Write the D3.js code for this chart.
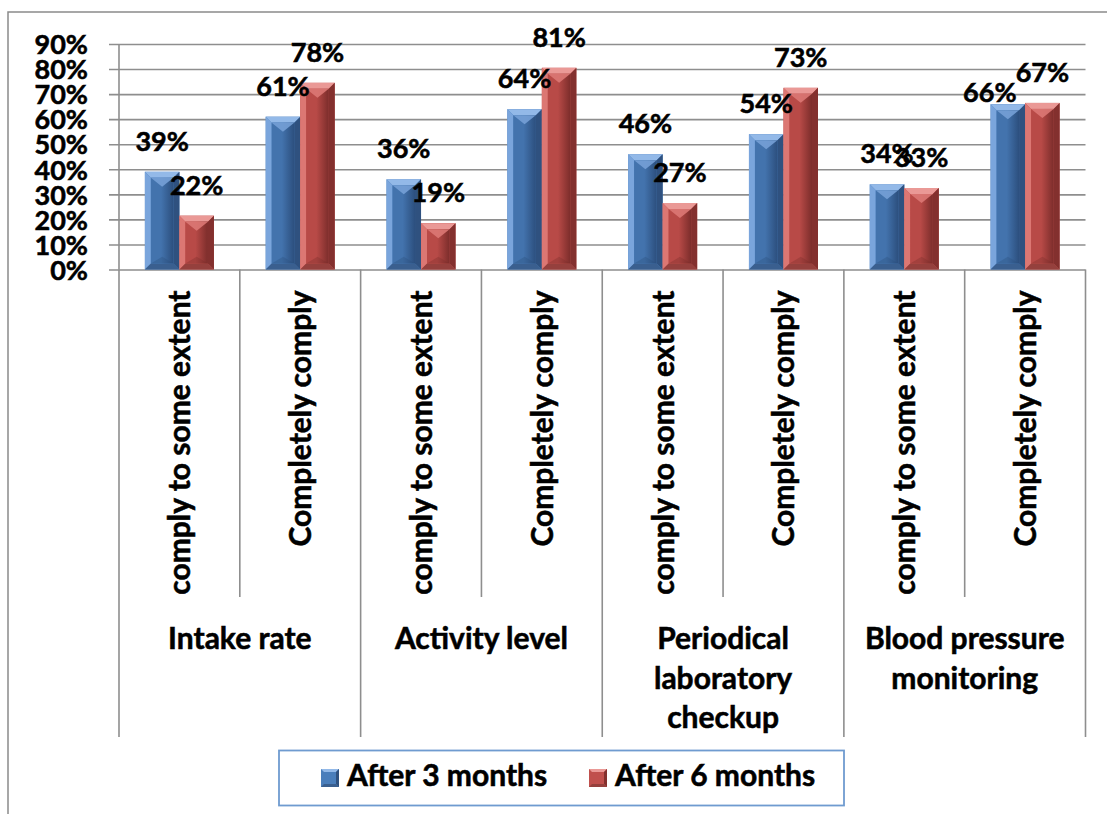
<!DOCTYPE html>
<html><head><meta charset="utf-8">
<script src="https://cdn.jsdelivr.net/npm/d3@7"></script>
<style>html,body{margin:0;padding:0;background:#fff;}svg{display:block;font-family:Lato,"Open Sans",sans-serif;font-weight:bold;}
text{stroke:#000;stroke-width:0.55px;}</style>
</head><body>
<svg id="chart" width="1107" height="814"></svg>
<script>
// ---- data ----
const subCategories = ["comply to some extent","Completely comply","comply to some extent","Completely comply","comply to some extent","Completely comply","comply to some extent","Completely comply"];
const groups = [["Intake rate"],["Activity level"],["Periodical","laboratory","checkup"],["Blood pressure","monitoring"]];
const seriesNames = ["After 3 months","After 6 months"];
const after3Values = [39,61,36,64,46,54,34,66];
const after6Values = [21.5,74.5,18.5,80.5,26.5,72.5,32.5,66.5];
const after3Labels = ["39%","61%","36%","64%","46%","54%","34%","66%"];
const after6Labels = ["22%","78%","19%","81%","27%","73%","33%","67%"];
const yTicks = [0,10,20,30,40,50,60,70,80,90];

// label nudges (layout only): [series, index] -> [dx, dy]
const labelNudge = {"0-7":[-18,19]};

const svg = d3.select("#chart");
const L = 119, R = 1085.5, T = 44, B = 269.5;
const grid = "#8e8e8e";

// outer chart border
svg.append("rect").attr("x",8).attr("y",12).attr("width",1120).attr("height",830)
  .attr("fill","none").attr("stroke","#8a8a8a").attr("stroke-width",1.5);

const x0 = d3.scaleBand().domain(d3.range(subCategories.length)).range([L,R]).paddingInner(0).paddingOuter(0);
const bw = x0.bandwidth()/3.5;
const x1 = d3.scaleBand().domain(seriesNames).range([0.75*bw, x0.bandwidth()-0.75*bw]).padding(0);
const y = d3.scaleLinear().domain([0,90]).range([B,T]);

// gridlines + value axis
const yAxis = d3.axisLeft(y).tickValues(yTicks).tickSize(-(R-L)).tickPadding(31).tickFormat(d=>d+"%");
const gy = svg.append("g").attr("transform",`translate(${L},0)`).call(yAxis);
gy.select(".domain").remove();
gy.selectAll(".tick line").attr("x1",-10).attr("x2",R-L).attr("stroke",grid).attr("stroke-width",1.6);
gy.selectAll(".tick text").attr("font-size",27).attr("font-family","Lato").attr("font-weight","bold").attr("fill","#000").attr("dy","0.36em");

// vertical axis line
svg.append("line").attr("x1",L).attr("x2",L).attr("y1",T).attr("y2",B).attr("stroke",grid).attr("stroke-width",1.6);

// category separators
const seps = d3.range(subCategories.length+1);
svg.selectAll("line.sep").data(seps).join("line").attr("class","sep")
  .attr("x1",i=>i<subCategories.length?x0(i):R).attr("x2",i=>i<subCategories.length?x0(i):R)
  .attr("y1",B).attr("y2",i=>i%2===0?737:597)
  .attr("stroke",grid).attr("stroke-width",1.6);

// gradients
const defs = svg.append("defs");
const pal = {
  "After 3 months":{base:"#4a7ebb", light:"#7aa5dc", top:"#93b9e8", inner0:"#4373ad", inner1:"#2c4f7e", dark:"#2f517f", bottom:"#3a5f8f", v:"#75a0d6"},
  "After 6 months":{base:"#c0504d", light:"#dc7773", top:"#ea9996", inner0:"#b84a47", inner1:"#7c2d2b", dark:"#83302e", bottom:"#95403d", v:"#dc7874"}
};
seriesNames.forEach((s,k)=>{
  const g = defs.append("linearGradient").attr("id","inner"+k).attr("x1","0").attr("x2","1").attr("y1","0").attr("y2","0");
  g.append("stop").attr("offset","0").attr("stop-color",pal[s].inner0);
  g.append("stop").attr("offset","0.45").attr("stop-color",pal[s].inner0);
  g.append("stop").attr("offset","1").attr("stop-color",pal[s].inner1);
});

function drawBar(gEl, x, yTop, w, h, s, k){
  const p = pal[s], e = Math.min(6, h/4);
  const g = gEl.append("g");
  g.append("rect").attr("x",x).attr("y",yTop).attr("width",w).attr("height",h).attr("fill",p.base);
  const x2 = x+w, y2 = yTop+h;
  g.append("polygon").attr("points",`${x},${yTop} ${x2},${yTop} ${x2-e},${yTop+e} ${x+e},${yTop+e}`).attr("fill",p.top);
  g.append("polygon").attr("points",`${x},${yTop} ${x+e},${yTop+e} ${x+e},${y2-e} ${x},${y2}`).attr("fill",p.light);
  g.append("polygon").attr("points",`${x2},${yTop} ${x2},${y2} ${x2-e},${y2-e} ${x2-e},${yTop+e}`).attr("fill",p.dark);
  g.append("polygon").attr("points",`${x},${y2} ${x+e},${y2-e} ${x2-e},${y2-e} ${x2},${y2}`).attr("fill",p.bottom);
  g.append("rect").attr("x",x+e).attr("y",yTop+e).attr("width",w-2*e).attr("height",Math.max(0,h-2*e)).attr("fill",`url(#inner${k})`);
  const vd = Math.min((w-2*e)/2, h-2*e);
  g.append("polygon").attr("points",`${x+e},${yTop+e} ${x2-e},${yTop+e} ${x+w/2},${yTop+e+vd*0.8}`).attr("fill",p.v).attr("opacity",0.9);
  g.append("polygon").attr("points",`${x+e},${y2-e} ${x2-e},${y2-e} ${x+w/2},${y2-e-vd*0.6}`).attr("fill",p.inner1).attr("opacity",0.35);
}

const barsG = svg.append("g");
const seriesVals = [after3Values, after6Values];
const seriesLabs = [after3Labels, after6Labels];
seriesNames.forEach((s,k)=>{
  seriesVals[k].forEach((v,i)=>{
    drawBar(barsG, x0(i)+x1(s), y(v), x1.bandwidth(), y(0)-y(v), s, k);
  });
});
// data labels
seriesNames.forEach((s,k)=>{
  svg.append("g").selectAll("text").data(seriesVals[k]).join("text")
    .attr("x",(v,i)=>x0(i)+x1(s)+x1.bandwidth()/2+((labelNudge[k+"-"+i]||[0,0])[0]))
    .attr("y",(v,i)=>y(v)-21+((labelNudge[k+"-"+i]||[0,0])[1]))
    .attr("text-anchor","middle").attr("font-size",27).attr("fill","#000")
    .text((v,i)=>seriesLabs[k][i]);
});

// rotated sub-category labels
svg.append("g").selectAll("text").data(subCategories).join("text")
  .attr("transform",(d,i)=>`translate(${x0(i)+x0.bandwidth()/2+11},${B+21}) rotate(-90)`)
  .attr("text-anchor","end").attr("font-size",30).attr("fill","#000").text(d=>d);

// group labels
groups.forEach((lines,gi)=>{
  const cx = x0(gi*2)+x0.bandwidth();
  const t = svg.append("text").attr("text-anchor","middle").attr("font-size",30).attr("fill","#000");
  lines.forEach((ln,j)=>t.append("tspan").attr("x",cx).attr("y",649+j*39.5).text(ln));
});

// legend
const lg = svg.append("g");
lg.append("rect").attr("x",279).attr("y",750.5).attr("width",565).attr("height",55).attr("fill","#fff").attr("stroke","#6f9bd0").attr("stroke-width",1.8);
const legX = [321, 589], legTX = [347, 615];
seriesNames.forEach((s,k)=>{
  const p = pal[s];
  const gx = legX[k], gyy = 769, sz = 18, e = 3;
  lg.append("rect").attr("x",gx).attr("y",gyy).attr("width",sz).attr("height",sz).attr("fill",p.base);
  lg.append("polygon").attr("points",`${gx},${gyy} ${gx+sz},${gyy} ${gx+sz-e},${gyy+e} ${gx+e},${gyy+e}`).attr("fill",p.top);
  lg.append("polygon").attr("points",`${gx+sz},${gyy} ${gx+sz},${gyy+sz} ${gx+sz-e},${gyy+sz-e} ${gx+sz-e},${gyy+e}`).attr("fill",p.dark);
  lg.append("polygon").attr("points",`${gx},${gyy+sz} ${gx+e},${gyy+sz-e} ${gx+sz-e},${gyy+sz-e} ${gx+sz},${gyy+sz}`).attr("fill",p.bottom);
  lg.append("text").attr("x",legTX[k]).attr("y",786).attr("font-size",30).attr("fill","#000").text(s);
});
</script>
</body></html>
